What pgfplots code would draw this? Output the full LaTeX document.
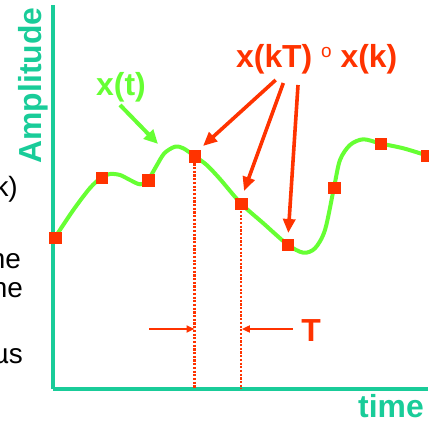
\documentclass[border=0pt]{standalone}
\usepackage{fontspec}
\setmainfont{Liberation Sans}
\usepackage{pgfplots}
\pgfplotsset{compat=1.18}
\usetikzlibrary{arrows.meta}

\definecolor{axisteal}{RGB}{25,204,153}
\definecolor{sigGreen}{RGB}{102,255,51}
\definecolor{sampRed}{RGB}{255,51,0}

\newcommand{\bigbold}{\fontsize{32}{36}\selectfont\bfseries}
\newcommand{\sidetext}{\fontsize{28}{32}\selectfont}

\begin{document}
\begin{tikzpicture}
\begin{axis}[
  scale only axis,
  width=375bp, height=384bp,
  xmin=-0.043, xmax=8.0215,
  ymin=0, ymax=38.4,
  axis x line=bottom, axis y line=left,
  axis line style={axisteal, line width=3bp, -},
  xtick=\empty, ytick=\empty,
  clip=false,
]
% continuous signal x(t)
\addplot[sigGreen, line width=4bp, smooth, tension=0.5, line join=round, line cap=round] coordinates {
  (0,15.15) (0.394,17.9) (0.753,20.1) (1,21.15) (1.183,21.5) (1.398,21.4)
  (1.613,20.9) (1.828,20.47) (2,20.9) (2.172,22.23) (2.351,23.57) (2.581,24.23)
  (2.759,24.07) (3,23.3) (3.262,22.4) (3.548,21.0) (4,18.55) (4.48,16.57)
  (5,14.45) (5.34,13.63) (5.591,14.07) (5.806,15.9) (6,20.15) (6.129,22.9)
  (6.344,24.4) (6.63,24.97) (7,24.55) (7.49,24.07) (8,23.35) (8.02,23.3)
};
% sampling instants kT and (k+1)T
\addplot[sampRed, line width=2.6bp, dash pattern=on 2.2bp off 1.5bp] coordinates {(3,23.3) (3,0)};
\addplot[sampRed, line width=2.6bp, dash pattern=on 2.2bp off 1.5bp] coordinates {(4,18.55) (4,0)};
% samples x(kT)
\addplot[color=sampRed, only marks, mark=square*, mark size=5.9bp,
  mark options={solid, fill=sampRed, draw=sampRed, line width=0.1bp}] coordinates {
  (0,15.15) (1,21.15) (2,20.9) (3,23.3) (4,18.55) (5,14.45) (6,20.15) (7,24.55) (8,23.35)
};

% labels
\node[rotate=90, anchor=base, inner sep=0, text=axisteal] at (axis cs:-0.28,30.35) {\bigbold Amplitude};
\node[anchor=base, inner sep=0, text=axisteal] at (axis cs:7.226,-2.8) {\bigbold time};
\node[anchor=base, inner sep=0, text=sigGreen] at (axis cs:1.419,29.3) {\bigbold x(t)};
\node[anchor=base west, inner sep=0, text=sampRed] at (axis cs:3.892,32.1)
  {\bigbold x(kT) \raisebox{10bp}{\fontsize{19}{19}\selectfont\mdseries o} x(k)};
\node[anchor=base, inner sep=0, text=sampRed] at (axis cs:5.505,4.7) {\bigbold T};

% annotation arrows
\draw[sigGreen, line width=4bp, -{Triangle[length=14bp, width=13bp]}]
  (axis cs:1.398,28.4) -- (axis cs:2.215,24.5);
\draw[sampRed, line width=3.6bp, -{Triangle[length=14bp, width=12bp]}]
  (axis cs:4.746,30.9) -- (axis cs:3.183,24.3);
\draw[sampRed, line width=3.6bp, -{Triangle[length=14bp, width=12bp]}]
  (axis cs:4.91,30.6) -- (axis cs:4.065,19.8);
\draw[sampRed, line width=3.6bp, -{Triangle[length=14bp, width=12bp]}]
  (axis cs:5.226,30.4) -- (axis cs:5.017,15.6);
\draw[sampRed, line width=2bp, -{Triangle[length=8bp, width=7bp]}]
  (axis cs:2.022,6.0) -- (axis cs:3.0,6.0);
\draw[sampRed, line width=2bp, -{Triangle[length=8bp, width=7bp]}]
  (axis cs:5.118,6.0) -- (axis cs:4.02,6.0);

% text running in from the left margin
\node[anchor=base east, inner sep=0] at (axis cs:-0.796,19.2) {\sidetext k)};
\node[anchor=base east, inner sep=0] at (axis cs:-0.731,12.0) {\sidetext ne};
\node[anchor=base east, inner sep=0] at (axis cs:-0.688,9.1) {\sidetext ne};
\node[anchor=base east, inner sep=0] at (axis cs:-0.688,2.6) {\sidetext µs};

\coordinate (sw) at (axis cs:-1.1828,-4.3);
\coordinate (ne) at (axis cs:8.0215,38.9);
\end{axis}
\pgfresetboundingbox
\path[use as bounding box] (sw) rectangle (ne);
\end{tikzpicture}
\end{document}
